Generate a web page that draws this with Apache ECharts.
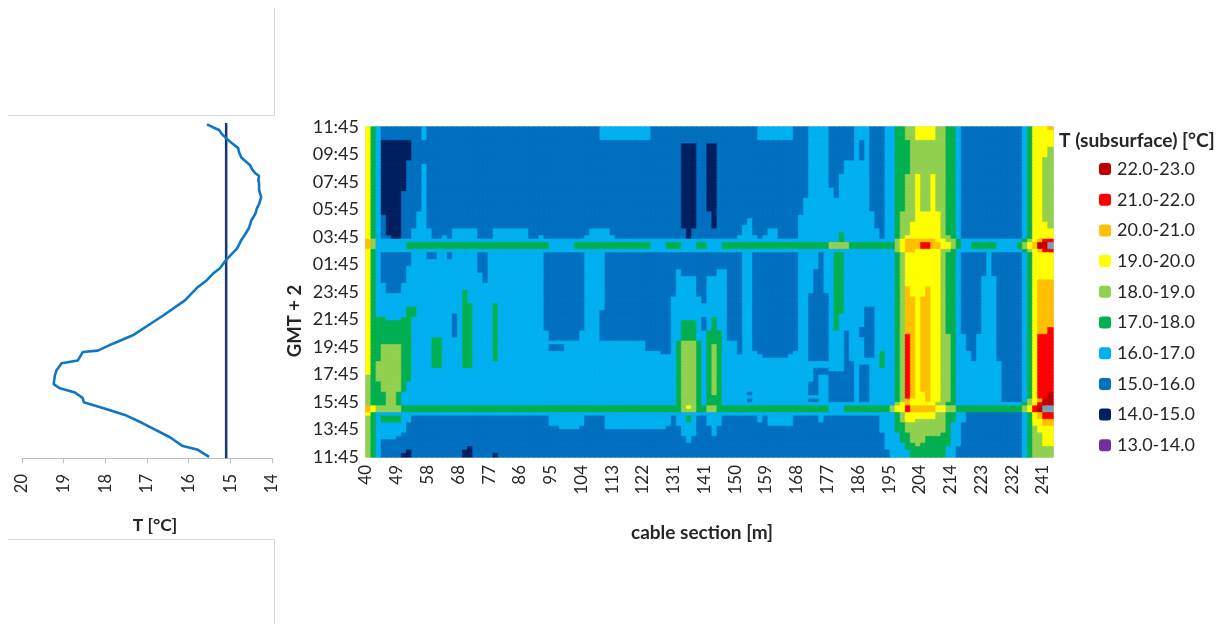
<!DOCTYPE html>
<html><head><meta charset="utf-8">
<style>html,body{margin:0;padding:0;background:#fff}#c{width:1223px;height:624px;filter:blur(0.55px)}</style>
<script src="https://cdn.jsdelivr.net/npm/echarts@6/dist/echarts.min.js"></script>
</head><body><div id="c"></div>
<script>
const cableLabels=[40,49,58,68,77,86,95,104,113,122,131,141,150,159,168,177,186,195,204,214,223,232,241];
const timeLabels=['11:45','13:45','15:45','17:45','19:45','21:45','23:45','01:45','03:45','05:45','07:45','09:45','11:45'];
const legendBands=[['13.0-14.0',13,14,'#7030A0'],['14.0-15.0',14,15,'#002060'],['15.0-16.0',15,16,'#0070C0'],['16.0-17.0',16,17,'#00B0F0'],['17.0-18.0',17,18,'#00B050'],['18.0-19.0',18,19,'#92D050'],['19.0-20.0',19,20,'#FFFF00'],['20.0-21.0',20,21,'#FFC000'],['21.0-22.0',21,22,'#FF0000'],['22.0-23.0',22,23,'#C00000']];
const overRangeColor='#7F9DB5';

// air temperature: [T in deg C, hours since 11:45]
const airTemp=[[15.51,0.1],[15.78,0.6],[16.16,0.9],[16.45,1.5],[17.1,2.5],[17.53,3.1],[18.06,3.6],[18.52,4.0],[18.54,4.3],[18.73,4.7],[19.09,5.0],[19.24,5.3],[19.21,5.95],[19.17,6.3],[19.05,6.8],[18.66,7.0],[18.54,7.6],[18.18,7.7],[17.82,8.2],[17.34,8.8],[16.98,9.5],[16.62,10.2],[16.09,11.3],[15.8,12.2],[15.58,12.7],[15.42,13.2],[15.25,13.6],[15.1,14.2],[14.94,14.7],[14.84,15.0],[14.74,15.6],[14.65,16.0],[14.55,16.5],[14.5,17.0],[14.4,17.5],[14.36,17.9],[14.31,18.2],[14.26,18.7],[14.31,19.2],[14.31,19.7],[14.33,19.9],[14.31,20.2],[14.4,20.4],[14.48,20.7],[14.53,21.0],[14.67,21.35],[14.74,21.55],[14.79,21.9],[14.81,22.2],[14.96,22.55],[15.1,22.9],[15.2,23.2],[15.27,23.5],[15.42,23.7],[15.56,23.9]];
const meanTemp=[[15.1,0],[15.1,24]];

// subsurface temperature, 97 rows (15 min, 11:45 at top) x 135 cable cells.
// Each entry: [first row, last row, "band:endCell ..."]; bands 3..9,a,b,c,d = 13-14 ... 22-23, above 23.
const leftCells=[
[0,3,"9:1 7:2 6:3 5:11 6:12 5:35"],[4,9,"9:1 7:2 6:3 4:9 5:35"],[10,10,"9:1 7:2 6:3 4:8 5:35"],[11,18,"9:1 7:2 6:3 4:8 5:11 6:12 5:35"],
[19,24,"9:1 7:2 6:3 4:7 5:11 6:12 5:35"],[25,25,"9:1 7:2 6:3 4:7 5:10 6:12 5:35"],[26,29,"9:1 7:2 6:3 5:4 4:7 5:10 6:12 5:35"],
[30,31,"9:1 7:2 6:3 5:4 4:7 5:9 6:13 5:17 6:22 5:25 6:32 5:35"],[32,32,"9:1 7:2 6:3 5:5 4:7 5:9 6:13 5:15 6:16 5:17 6:22 5:25 6:32 5:34 6:35"],
[33,33,"a:1 8:2 6:35"],[34,35,"a:1 8:2 6:8 7:35"],[36,36,"9:1 7:2 6:35"],
[37,38,"9:1 7:2 6:3 5:9 6:12 5:14 6:16 5:17 6:22 5:24 6:35"],[39,40,"9:1 7:2 6:3 5:9 6:22 5:24 6:35"],[41,42,"9:1 7:2 6:3 5:8 6:22 5:24 6:35"],
[43,45,"9:1 7:2 6:3 5:8 6:23 5:24 6:35"],[46,47,"9:1 7:2 6:4 5:7 6:35"],[48,48,"9:1 7:2 6:4 5:7 6:19 7:20 6:35"],[49,51,"9:1 7:2 6:19 7:20 6:35"],
[52,52,"9:1 7:2 6:19 7:21 6:25 7:26 6:35"],[53,54,"9:1 7:2 6:8 7:10 6:19 7:21 6:25 7:26 6:35"],[55,55,"9:1 7:2 6:8 7:10 6:17 5:18 6:19 7:21 6:25 7:26 6:35"],
[56,56,"9:1 7:4 6:7 7:9 6:17 5:18 6:19 7:21 6:25 7:26 6:35"],[57,61,"9:1 7:9 6:17 5:18 6:19 7:21 6:25 7:26 6:35"],[62,63,"9:1 7:9 6:13 7:15 6:19 7:21 6:25 7:26 6:35"],
[64,68,"9:1 7:3 8:7 7:9 6:13 7:15 6:19 7:21 6:25 7:26 6:35"],[69,70,"9:1 7:2 8:7 7:9 6:13 7:15 6:19 7:21 6:35"],[71,72,"9:1 7:2 8:7 7:9 6:35"],
[73,74,"8:1 7:2 8:7 7:9 6:35"],[75,77,"8:1 7:3 8:7 7:8 6:35"],[78,81,"8:1 7:4 8:6 7:7 6:35"],[82,83,"a:1 9:2 8:7 7:35"],[84,84,"9:1 7:2 6:35"],
[85,86,"8:1 7:2 6:3 7:7 6:9 5:35"],[87,89,"8:1 7:2 6:8 5:35"],[90,90,"8:1 7:2 6:7 5:35"],[91,91,"8:1 7:2 6:6 5:35"],[92,93,"8:1 7:2 6:3 5:35"],
[94,94,"8:1 7:2 6:3 5:20 4:21 5:35"],[95,95,"8:1 7:2 6:3 5:8 4:9 5:19 4:21 5:35"],[96,96,"8:1 7:2 6:3 5:7 4:9 5:19 4:21 5:25 4:26 5:35"]];
const midCells=[
[0,3,"5:46 6:56 5:77 6:84 5:85"],[4,4,"5:85"],[5,24,"5:62 4:65 5:67 4:69 5:85"],[25,26,"5:62 4:65 5:68 4:69 5:85"],[27,28,"5:62 4:65 5:68 4:69 5:75 6:76 5:85"],
[29,29,"5:62 4:65 5:68 4:69 5:74 6:76 5:85"],[30,31,"5:44 6:48 5:63 4:64 5:74 6:76 5:79 6:81 5:85"],[32,32,"5:43 6:49 5:63 4:64 5:73 6:77 5:78 6:81 5:85"],
[33,33,"6:85"],[34,35,"7:36 6:41 7:56 6:59 7:62 6:65 7:67 6:70 7:85"],[36,36,"6:85"],
[37,41,"5:43 6:47 5:74 6:76 5:85"],[42,43,"5:43 6:47 5:61 6:62 5:69 6:71 5:74 6:76 5:85"],[44,49,"5:43 6:47 5:61 6:65 5:67 6:71 5:74 6:76 5:85"],
[50,51,"5:43 6:47 5:60 6:66 5:67 6:71 5:74 6:76 5:85"],[52,53,"5:43 6:47 5:60 6:71 5:74 6:76 5:85"],[54,55,"5:43 6:46 5:60 6:71 5:74 6:76 5:85"],
[56,56,"5:43 6:46 5:60 6:66 5:67 6:68 7:69 6:71 5:74 6:76 5:85"],[57,59,"5:43 6:46 5:60 6:62 7:65 6:66 5:67 6:68 7:69 6:71 5:74 6:76 5:85"],
[60,62,"6:36 5:42 6:46 5:60 6:62 7:65 6:67 7:70 6:71 5:74 6:76 5:85"],[63,63,"6:55 5:60 6:61 7:62 8:65 7:66 6:67 7:70 6:73 5:74 6:76 5:85"],
[64,65,"6:36 5:39 6:55 5:60 6:61 7:62 8:65 7:66 6:67 7:68 8:69 7:70 6:73 5:74 6:76 5:85"],[66,66,"6:58 5:60 6:61 7:62 8:65 7:66 6:67 7:68 8:69 7:70 6:73 5:74 6:77 5:84 6:85"],
[67,67,"6:61 7:62 8:65 7:66 6:67 7:68 8:69 7:70 6:78 5:83 6:85"],[68,77,"6:61 7:62 8:65 7:66 6:67 7:68 8:69 7:70 6:85"],[78,78,"6:61 7:62 8:65 7:66 6:67 7:68 8:69 7:70 6:75 5:76 6:85"],
[79,79,"6:61 7:62 8:65 7:66 6:67 7:70 6:85"],[80,80,"6:61 7:62 8:65 7:66 6:67 7:70 6:75 5:76 6:85"],[81,81,"6:61 7:62 8:65 7:66 6:67 7:70 6:85"],
[82,82,"7:62 8:63 9:64 8:65 7:67 8:69 7:85"],[83,83,"7:62 8:65 7:67 8:69 7:85"],[84,84,"6:85"],
[85,86,"5:36 6:43 5:47 6:60 5:61 6:63 7:64 6:65 5:67 6:70 5:77 6:78 5:79 6:84 5:85"],[87,87,"5:36 6:43 5:47 6:60 5:61 6:65 5:67 6:70 5:79 6:84 5:85"],
[88,88,"5:38 6:42 5:47 6:59 5:62 6:65 5:68 6:69 5:85"],[89,90,"5:62 6:65 5:68 6:69 5:85"],[91,92,"5:63 6:64 5:85"],[93,96,"5:85"]];
const rightCells=[
[0,3,"5:87 6:91 5:96 6:99 5:102 6:104"],[4,9,"5:87 6:91 5:96 6:97 5:98 6:99 5:102 6:104"],[10,13,"5:87 6:91 5:94 6:99 5:102 6:104"],[14,17,"5:87 6:91 5:93 6:99 5:102 6:104"],
[18,20,"5:87 6:92 5:93 6:99 5:102 6:104"],[21,24,"5:86 6:99 5:102 6:104"],[25,25,"5:86 6:100 5:102 6:104"],[26,29,"6:100 5:102 6:104"],[30,30,"6:101 5:102 6:104"],
[31,32,"6:93 7:94 6:101 5:102 6:104"],[33,33,"6:93 7:94 6:104"],[34,35,"7:91 8:95 7:104"],[36,36,"6:104"],
[37,41,"6:89 5:90 6:92 7:94 6:104"],[42,48,"6:88 5:90 6:92 7:94 6:104"],[49,52,"6:87 5:91 6:92 7:94 6:104"],[53,54,"6:87 5:91 6:92 7:94 6:98 5:100 6:104"],
[55,58,"6:87 5:91 6:92 7:93 6:98 5:100 6:104"],[59,59,"6:87 5:91 6:92 7:93 6:97 5:100 6:104"],[60,61,"6:87 5:91 6:94 5:95 6:97 5:100 6:104"],[62,65,"6:87 5:91 6:94 5:95 6:98 5:100 6:104"],
[66,67,"6:87 5:91 6:94 5:95 6:98 5:100 6:101 7:102 6:104"],[68,68,"6:87 5:91 6:94 5:95 6:101 7:102 6:104"],[69,69,"6:94 5:96 6:101 7:102 6:104"],[70,70,"6:94 5:96 6:97 5:99 6:101 7:102 6:104"],
[71,71,"6:88 5:91 6:94 5:96 6:97 5:99 6:104"],[72,72,"6:88 5:96 6:97 5:99 6:104"],[73,74,"6:88 5:89 6:91 5:96 6:97 5:99 6:104"],[75,78,"6:87 5:89 6:91 5:96 6:97 5:99 6:104"],
[79,79,"6:91 5:96 6:97 5:99 6:104"],[80,80,"6:87 5:89 6:91 5:96 6:97 5:99 6:104"],[81,81,"6:104"],[82,83,"7:91 6:94 7:103 8:104"],[84,84,"6:104"],
[85,86,"5:89 6:90 5:101 6:104"],[87,89,"5:101 6:104"],[90,94,"5:102 6:104"],[95,96,"5:103 6:104"]];
const tailCells=[
[0,0,"7:106 8:108 9:112 8:114 7:116 6:117 5:129 6:130 7:131 9:134 a:135"],[1,3,"7:106 8:108 9:112 8:114 7:116 6:117 5:129 6:130 7:131 9:135"],[4,5,"7:107 8:114 7:116 6:117 5:129 6:130 7:131 9:135"],
[6,8,"7:107 8:114 7:116 6:117 5:129 6:130 7:131 9:134 8:135"],[9,13,"7:107 8:114 7:116 6:117 5:129 6:130 7:131 9:133 8:135"],[14,24,"7:106 8:108 9:109 8:111 9:112 8:114 7:116 6:117 5:129 6:130 7:131 9:133 8:135"],
[25,27,"7:105 8:108 9:113 8:114 7:116 6:117 5:129 6:130 7:131 9:133 8:135"],[28,29,"7:105 8:107 9:113 8:114 7:116 6:117 5:129 6:130 7:131 9:134 8:135"],[30,31,"7:105 8:107 9:113 8:114 7:116 6:117 5:129 6:130 7:131 9:135"],
[32,32,"7:105 8:106 9:113 8:115 7:116 6:117 5:129 6:130 7:131 9:135"],[33,33,"8:105 9:106 a:112 9:114 8:116 7:117 6:129 7:130 8:131 9:132 a:133 b:135"],
[34,35,"8:105 9:106 a:109 b:111 a:113 9:115 8:116 7:117 6:119 7:124 6:128 7:129 8:130 9:131 a:132 c:134 d:135"],[36,36,"8:105 9:106 a:108 9:113 8:115 7:116 6:129 7:130 8:131 9:132 a:133 b:135"],
[37,43,"7:105 8:106 9:113 8:114 7:116 6:117 5:122 6:123 5:129 6:130 7:131 9:135"],[44,44,"7:105 8:106 9:113 8:114 7:116 6:117 5:121 6:124 5:129 6:130 7:131 9:135"],[45,46,"7:105 8:106 9:113 8:114 7:116 6:117 5:121 6:124 5:129 6:130 7:131 9:132 a:135"],
[47,49,"7:105 8:106 a:107 9:110 a:111 9:113 8:114 7:116 6:117 5:121 6:124 5:129 6:130 7:131 9:132 a:135"],[50,58,"7:105 8:106 a:108 9:109 a:111 9:113 8:114 7:116 6:117 5:121 6:124 5:129 6:130 7:131 9:132 a:135"],
[59,60,"7:105 8:106 a:108 9:109 a:111 9:113 8:114 7:116 6:117 5:121 6:124 5:129 6:130 7:131 9:132 a:134 b:135"],[61,65,"7:105 8:106 b:107 a:108 9:109 a:111 9:113 8:115 7:116 6:118 5:120 6:124 5:129 6:130 7:131 9:132 b:135"],
[66,68,"7:105 8:106 b:107 a:108 9:109 a:111 9:113 8:115 7:116 6:119 5:120 6:124 5:129 6:130 7:131 9:132 b:135"],[69,77,"7:105 8:106 b:107 a:108 9:109 a:111 9:113 8:115 7:116 6:125 5:129 6:130 7:131 9:132 b:135"],
[78,79,"7:105 8:106 b:107 a:108 9:110 a:111 9:113 8:115 7:116 6:125 5:129 6:130 7:131 9:132 b:134 c:135"],[80,80,"7:105 8:106 a:107 9:110 a:111 9:113 8:115 7:116 6:125 5:129 6:130 8:131 9:132 a:133 c:135"],
[81,81,"8:105 9:106 a:107 9:112 8:114 7:116 6:129 7:130 8:131 9:132 b:133 c:135"],[82,83,"9:106 b:107 a:112 9:114 8:116 7:129 8:130 9:131 b:132 c:133 d:135"],
[84,85,"7:105 8:106 9:112 8:114 7:116 6:118 5:129 6:130 7:131 9:132 a:133 b:135"],[86,86,"7:105 8:106 9:108 8:114 7:116 6:118 5:129 6:130 7:131 9:133 a:135"],[87,87,"7:106 8:114 7:115 6:117 5:129 6:130 7:131 9:133 a:135"],
[88,89,"7:106 8:114 7:115 6:117 5:129 6:130 7:131 8:132 9:135"],[90,90,"6:105 7:107 8:113 7:115 6:117 5:129 6:130 7:131 8:133 9:135"],[91,92,"6:105 7:107 8:110 7:115 6:117 5:129 6:130 7:131 8:133 9:135"],
[93,93,"6:106 7:108 8:109 7:115 6:117 5:129 6:130 7:131 8:133 9:135"],[94,94,"6:106 7:114 6:116 5:129 6:130 7:131 8:135"],[95,96,"6:107 7:114 6:116 5:129 6:130 7:131 8:135"]];

const ROWS=97,COLS=135;
const bandValue={3:13.5,4:14.5,5:15.5,6:16.5,7:17.5,8:18.5,9:19.5,a:20.5,b:21.5,c:22.5,d:23.5};
const grid=Array.from({length:ROWS},()=>new Array(COLS).fill(16.5));
[[leftCells,0],[midCells,35],[rightCells,85],[tailCells,104]].forEach(([cells,start])=>{
  cells.forEach(([from,to,rle])=>{
    for(let r=from;r<=to;r++){
      let c=start;
      rle.split(' ').forEach(tok=>{
        const [b,end]=tok.split(':');
        for(;c<+end;c++) grid[r][c]=bandValue[b];
      });
    }
  });
});
const colorOf=v=>{const b=legendBands.find(x=>v>=x[1]&&v<x[2]);return b?b[3]:overRangeColor;};
const cells=[];
grid.forEach((row,r)=>row.forEach((v,c)=>{
  const col=colorOf(v);
  cells.push({value:[c,r,v],itemStyle:{color:col,borderColor:col,borderWidth:0.6}});
}));

const FONT='Lato';
const txt='#262626';
const frame='#D9D9D9';
const chart=echarts.init(document.getElementById('c'),null,{renderer:'canvas'});
chart.setOption({
  animation:false,
  backgroundColor:'#fff',
  textStyle:{fontFamily:FONT},
  title:{text:'T (subsurface) [°C]',left:1054,top:126,textStyle:{fontFamily:FONT,fontSize:19.2,fontWeight:'bold',color:txt}},
  grid:[
    {left:22,top:123,width:250,height:338},
    {left:366,top:127,width:687,height:330,show:true,borderColor:'#B5B5B5',borderWidth:1,backgroundColor:'transparent'}
  ],
  xAxis:[
    {gridIndex:0,type:'value',inverse:true,min:14,max:20,interval:1,position:'bottom',splitLine:{show:false},
     axisLine:{show:true,lineStyle:{color:'#BFBFBF',width:1}},axisTick:{show:true,length:5,lineStyle:{color:'#BFBFBF'}},
     axisLabel:{rotate:90,fontSize:16.5,color:txt,margin:13,fontFamily:FONT},
     name:'T [°C]',nameLocation:'middle',nameGap:55,nameTextStyle:{fontSize:17.5,fontWeight:'bold',color:txt,fontFamily:FONT,padding:[0,0,0,16]}},
    {gridIndex:1,type:'category',show:false,position:'top',data:grid[0].map((_,i)=>i)},
    {gridIndex:1,type:'value',min:0,max:22.33,interval:1,position:'bottom',splitLine:{show:false},
     axisLine:{show:false},axisTick:{show:false},
     axisLabel:{rotate:90,fontSize:17,color:txt,margin:8,fontFamily:FONT,showMaxLabel:false,formatter:v=>cableLabels[Math.round(v)]!==undefined?String(cableLabels[Math.round(v)]):''},
     name:'cable section [m]',nameLocation:'middle',nameGap:66,nameTextStyle:{fontSize:19,fontWeight:'bold',color:txt,fontFamily:FONT,padding:[0,15,0,0]}}
  ],
  yAxis:[
    {gridIndex:0,type:'value',min:-0.2,max:24,show:false},
    {gridIndex:1,type:'category',inverse:true,show:false,position:'right',data:grid.map((_,i)=>i)},
    {gridIndex:1,type:'value',min:0,max:12,interval:1,position:'left',splitLine:{show:false},
     axisLine:{show:true,lineStyle:{color:'#B5B5B5'}},axisTick:{show:false},
     axisLabel:{fontSize:18,color:txt,margin:7,fontFamily:FONT,formatter:v=>timeLabels[Math.round(v)]},
     name:'GMT + 2',nameLocation:'middle',nameGap:61,nameMoveOverlap:false,nameRotate:90,nameTextStyle:{fontSize:18.5,fontWeight:'bold',color:txt,fontFamily:FONT,padding:[0,58,0,0]}}
  ],
  visualMap:{
    type:'piecewise',seriesIndex:2,orient:'vertical',align:'left',left:1084,top:145,itemWidth:12,itemHeight:12,itemGap:12.7,textGap:6,
    textStyle:{fontSize:18,color:txt,fontFamily:FONT},
    hoverLink:false,selectedMode:false,
    pieces:legendBands.map(b=>({label:b[0],min:b[1],max:b[2],color:b[3]})),
    outOfRange:{color:overRangeColor}
  },
  series:[
    {type:'line',xAxisIndex:0,yAxisIndex:0,data:meanTemp,symbol:'none',silent:true,lineStyle:{color:'#17357A',width:2.5}},
    {type:'line',xAxisIndex:0,yAxisIndex:0,data:airTemp,symbol:'none',silent:true,lineStyle:{color:'#0F76C6',width:2.6}},
    {type:'heatmap',xAxisIndex:1,yAxisIndex:1,data:cells,silent:true,progressive:0,animation:false}
  ],
  graphic:[
    {type:'line',silent:true,shape:{x1:8,y1:115.5,x2:274.5,y2:115.5},style:{stroke:frame,lineWidth:1}},
    {type:'line',silent:true,shape:{x1:274.5,y1:8,x2:274.5,y2:115.5},style:{stroke:frame,lineWidth:1}},
    {type:'line',silent:true,shape:{x1:8,y1:539.5,x2:274.5,y2:539.5},style:{stroke:frame,lineWidth:1}},
    {type:'line',silent:true,shape:{x1:274.5,y1:539.5,x2:274.5,y2:624},style:{stroke:frame,lineWidth:1}}
  ]
});
</script></body></html>
